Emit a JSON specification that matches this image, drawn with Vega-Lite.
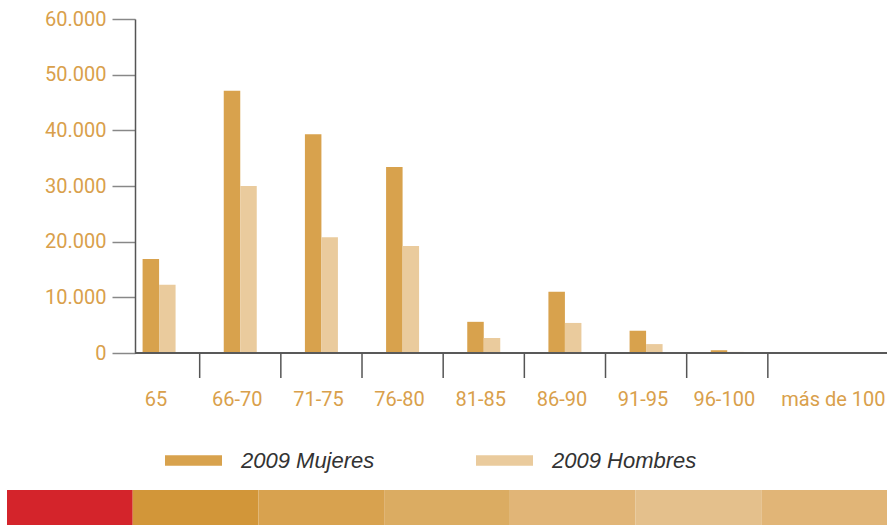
{
  "$schema": "https://vega.github.io/schema/vega-lite/v6.json",
  "padding": {"left": 7, "top": 9, "right": 0, "bottom": 0},
  "background": "#ffffff",
  "spacing": 18,
  "config": {
    "view": {"stroke": null},
    "axis": {
      "labelFont": "Roboto, sans-serif",
      "labelFontWeight": 400,
      "labelFontSize": 20,
      "labelColor": "#d9a04b",
      "title": null,
      "grid": false
    },
    "legend": {
      "labelFont": "'Liberation Sans', Arial, sans-serif",
      "labelFontStyle": "italic",
      "labelFontSize": 22,
      "labelColor": "#333333",
      "padding": 0
    }
  },
  "vconcat": [
    {
      "width": 752,
      "height": 334,
      "data": {
        "values": [
          {"grupo": "65", "serie": "2009 Mujeres", "valor": 16900},
          {"grupo": "65", "serie": "2009 Hombres", "valor": 12250},
          {"grupo": "66-70", "serie": "2009 Mujeres", "valor": 47100},
          {"grupo": "66-70", "serie": "2009 Hombres", "valor": 30000},
          {"grupo": "71-75", "serie": "2009 Mujeres", "valor": 39300},
          {"grupo": "71-75", "serie": "2009 Hombres", "valor": 20800},
          {"grupo": "76-80", "serie": "2009 Mujeres", "valor": 33400},
          {"grupo": "76-80", "serie": "2009 Hombres", "valor": 19200},
          {"grupo": "81-85", "serie": "2009 Mujeres", "valor": 5600},
          {"grupo": "81-85", "serie": "2009 Hombres", "valor": 2700},
          {"grupo": "86-90", "serie": "2009 Mujeres", "valor": 11000},
          {"grupo": "86-90", "serie": "2009 Hombres", "valor": 5400},
          {"grupo": "91-95", "serie": "2009 Mujeres", "valor": 4000},
          {"grupo": "91-95", "serie": "2009 Hombres", "valor": 1600},
          {"grupo": "96-100", "serie": "2009 Mujeres", "valor": 500},
          {"grupo": "96-100", "serie": "2009 Hombres", "valor": 200},
          {"grupo": "más de 100", "serie": "2009 Mujeres", "valor": 0},
          {"grupo": "más de 100", "serie": "2009 Hombres", "valor": 0}
        ]
      },
      "layer": [
        {
          "mark": {"type": "bar"},
          "encoding": {
            "x": {
              "field": "grupo",
              "type": "nominal",
              "sort": null,
              "scale": {"range": [-16.5, 714], "paddingInner": 0.5934, "paddingOuter": 0.2967},
              "axis": {
                "ticks": false,
                "domain": false,
                "labelAngle": 0,
                "labelPadding": 36,
                "labelOffset": {
                  "condition": {"test": "datum.value === 'más de 100'", "value": 25},
                  "value": -3
                }
              }
            },
            "xOffset": {
              "field": "serie",
              "type": "nominal",
              "sort": ["2009 Mujeres", "2009 Hombres"],
              "scale": {"paddingInner": 0, "paddingOuter": 0}
            },
            "y": {
              "field": "valor",
              "type": "quantitative",
              "scale": {"domain": [0, 60000], "nice": false},
              "axis": {
                "values": [0, 10000, 20000, 30000, 40000, 50000, 60000],
                "labelExpr": "replace(format(datum.value, ','), ',', '.')",
                "domainColor": "#555555",
                "domainWidth": 1.5,
                "tickColor": "#888888",
                "tickWidth": 1.5,
                "tickSize": 23,
                "labelPadding": 6,
                "minExtent": 128,
                "maxExtent": 128
              }
            },
            "color": {
              "field": "serie",
              "type": "nominal",
              "sort": ["2009 Mujeres", "2009 Hombres"],
              "scale": {"domain": ["2009 Mujeres", "2009 Hombres"], "range": ["#d8a24d", "#eacb9d"]},
              "legend": {
                "title": null,
                "orient": "none",
                "direction": "horizontal",
                "legendX": 30,
                "legendY": 413,
                "symbolType": "M-1,-0.18H1V0.18H-1Z",
                "symbolSize": 3249,
                "symbolStrokeWidth": 0,
                "symbolOpacity": 1,
                "labelOffset": 19,
                "columnPadding": 101,
                "gridAlign": "none"
              }
            }
          }
        },
        {
          "mark": {"type": "rule", "color": "#5a5a5a", "strokeWidth": 1.5},
          "encoding": {"y": {"datum": 0}}
        },
        {
          "transform": [
            {"filter": "datum.serie === '2009 Mujeres' && datum.grupo !== 'más de 100'"}
          ],
          "mark": {"type": "rule", "color": "#555555", "strokeWidth": 1.5, "y2Offset": 25},
          "encoding": {
            "x": {"field": "grupo", "type": "nominal", "sort": null, "bandPosition": 1.73},
            "y": {"datum": 0},
            "y2": {"datum": 0}
          }
        }
      ]
    },
    {
      "width": 752,
      "height": 36,
      "data": {
        "values": [
          {"tramo": 1}, {"tramo": 2}, {"tramo": 3}, {"tramo": 4},
          {"tramo": 5}, {"tramo": 6}, {"tramo": 7}
        ]
      },
      "mark": {"type": "rect"},
      "encoding": {
        "x": {
          "field": "tramo",
          "type": "ordinal",
          "scale": {"range": [-128, 752], "paddingInner": 0, "paddingOuter": 0},
          "axis": null
        },
        "color": {
          "field": "tramo",
          "type": "ordinal",
          "scale": {"range": ["#d4242b", "#d29639", "#d8a24f", "#dbac62", "#e1b577", "#e4c08c", "#e1b577"]},
          "legend": null
        }
      }
    }
  ],
  "resolve": {"scale": {"color": "independent", "x": "independent"}}
}
